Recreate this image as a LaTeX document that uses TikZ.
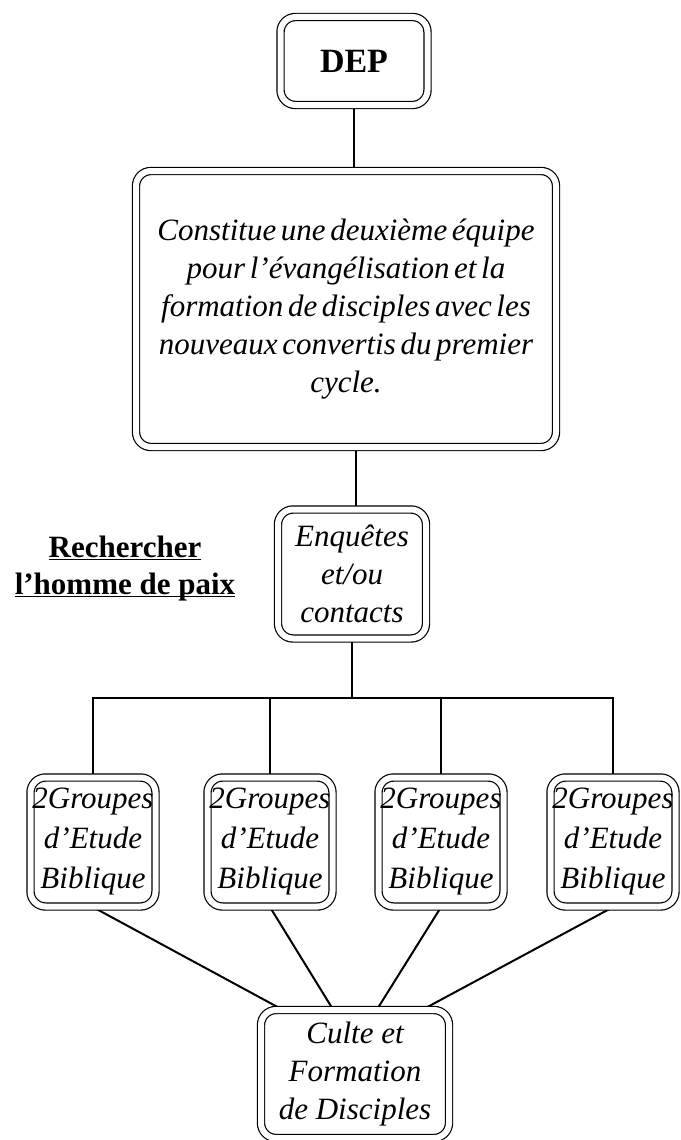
\documentclass[tikz,border=0pt]{standalone}
\usepackage{fontspec}
\setmainfont{Liberation Serif}
\usetikzlibrary{backgrounds}
\newcommand\souligne[1]{\underline{\smash{#1}\rule[-1pt]{0pt}{1pt}}}
\newcommand\serre{\spaceskip=4.6pt plus 1pt minus 1pt\relax}

\begin{document}
\begin{tikzpicture}[x=1pt,y=-1pt]
        \tikzstyle{cadre}=[draw=black, line width=1.2pt, double=white, double distance=6pt, rounded corners=15pt, inner sep=0pt, align=center, font=\itshape\fontsize{31}{38}\selectfont]
        \tikzstyle{groupe}=[cadre, minimum width=125pt, minimum height=129pt, font=\itshape\fontsize{31}{40}\selectfont]
        \tikzstyle{lien}=[draw=black, line width=2pt]
        \useasboundingbox (0,0) rectangle (680,1140);
        \node[cadre, minimum width=147pt, minimum height=88pt, font=\bfseries\fontsize{34}{40}\selectfont] (dep) at (354,61) {DEP};
        \node[cadre, minimum width=420pt, minimum height=276pt, font=\itshape\fontsize{31}{38}\selectfont\serre] (equipe) at (346,309) {Constitue une deuxième équipe\\ pour l’évangélisation et la\\ formation de disciples avec les\\ nouveaux convertis du premier\\ cycle.};
        \node[cadre, minimum width=148pt, minimum height=129pt] (enquete) at (352,574) {Enquêtes\\ et/ou\\ contacts};
        \node[font=\bfseries\fontsize{31}{37}\selectfont, align=center] (paix) at (125,577) {\souligne{Rechercher}\\ \souligne{l’homme de paix}};
        \node[groupe] (g1) at (93,842) {2Groupes\\ d’Etude\\ Biblique};
        \node[groupe] (g2) at (270,842) {2Groupes\\ d’Etude\\ Biblique};
        \node[groupe] (g3) at (441,842) {2Groupes\\ d’Etude\\ Biblique};
        \node[groupe] (g4) at (613,842) {2Groupes\\ d’Etude\\ Biblique};
        \node[cadre, minimum width=188pt, minimum height=128pt] (culte) at (355,1074) {Culte et\\ Formation\\ de Disciples};
        \coordinate (barre) at (351,698);
        \begin{scope}[on background layer]
        \draw[lien] (dep.south) -- (dep.south |- equipe.north);
        \draw[lien] ([xshift=10pt]equipe.south) -- ([xshift=10pt]equipe.south |- enquete.north);
        \draw[lien] (enquete.south) -- (enquete.south |- barre);
        \draw[lien] (g1.north) -- (g1.north |- barre) -- (g4.north |- barre) -- (g4.north);
        \draw[lien] (g2.north) -- (g2.north |- barre);
        \draw[lien] (g3.north) -- (g3.north |- barre);
        \draw[lien] (g1.south) -- ([xshift=-73pt]culte.north);
        \draw[lien] (g2.south) -- ([xshift=-22pt]culte.north);
        \draw[lien] (g3.south) -- ([xshift=22pt]culte.north);
        \draw[lien] (g4.south) -- ([xshift=68pt]culte.north);
        \end{scope}
\end{tikzpicture}
\end{document}
